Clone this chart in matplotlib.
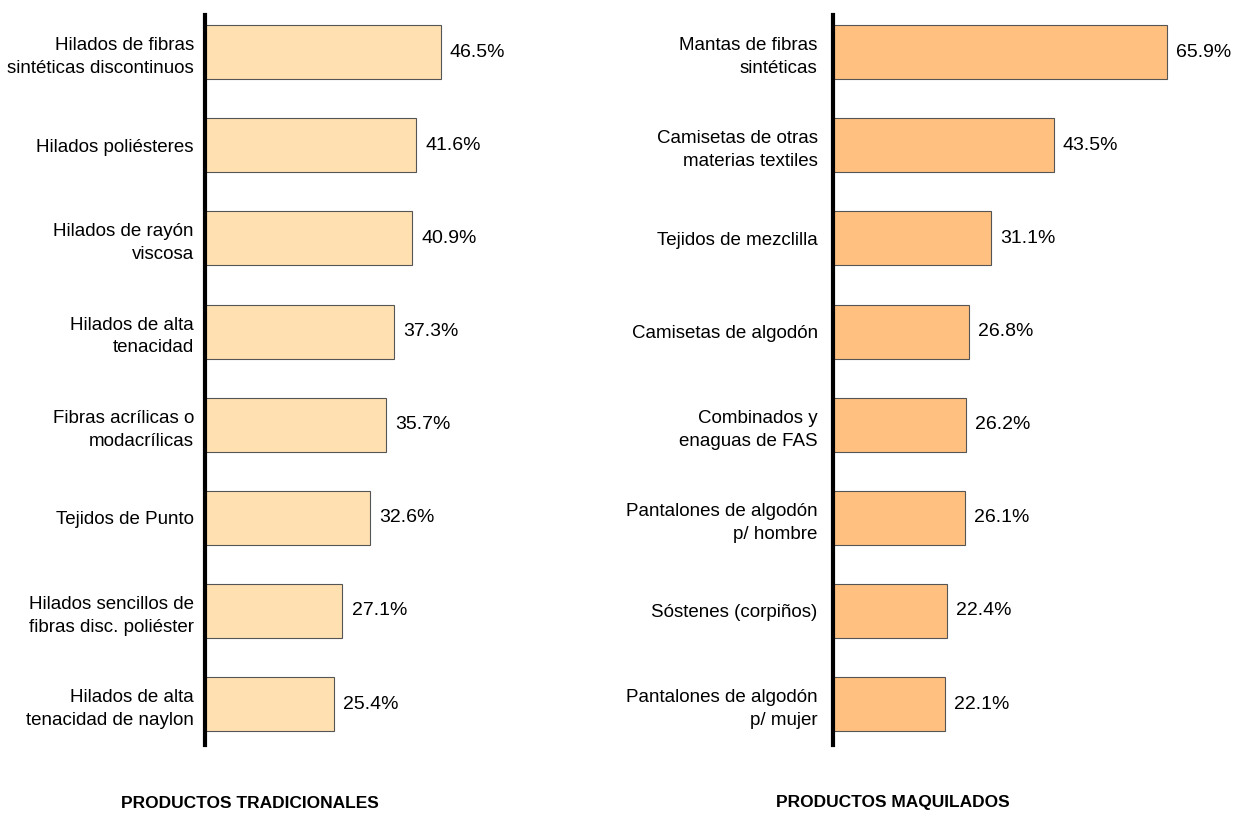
import matplotlib
matplotlib.use('Agg')
from matplotlib import pyplot as plt

# datos
trad_labels = ['Hilados de fibras\nsintéticas discontinuos', 'Hilados poliésteres',
               'Hilados de rayón\nviscosa', 'Hilados de alta\ntenacidad',
               'Fibras acrílicas o\nmodacrílicas', 'Tejidos de Punto',
               'Hilados sencillos de\nfibras disc. poliéster',
               'Hilados de alta\ntenacidad de naylon']
trad_vals = [46.5, 41.6, 40.9, 37.3, 35.7, 32.6, 27.1, 25.4]

maq_labels = ['Mantas de fibras\nsintéticas', 'Camisetas de otras\nmaterias textiles',
              'Tejidos de mezclilla', 'Camisetas de algodón',
              'Combinados y\nenaguas de FAS', 'Pantalones de algodón\np/ hombre',
              'Sóstenes (corpiños)', 'Pantalones de algodón\np/ mujer']
maq_vals = [65.9, 43.5, 31.1, 26.8, 26.2, 26.1, 22.4, 22.1]

plt.rcParams['font.family'] = ['Liberation Sans', 'DejaVu Sans']

fig = plt.figure(figsize=(12.37, 8.17), dpi=100)

def panel(rect, labels, vals, color, title, title_x, pad):
    ax = fig.add_axes(rect)
    pos = range(len(vals))
    ax.barh(pos, vals, height=0.58, color=color, edgecolor='#555555', linewidth=0.8)
    ax.set_xlim(0, 70)
    ax.set_ylim(7.44, -0.4)
    ax.set_yticks(list(pos))
    ax.set_yticklabels(labels, fontsize=13.5, linespacing=1.45, ha='right')
    ax.tick_params(axis='y', length=0, pad=pad)
    ax.set_xticks([])
    for s in ['top', 'right', 'bottom']:
        ax.spines[s].set_visible(False)
    ax.spines['left'].set_linewidth(3)
    ax.spines['left'].set_color('black')
    for p, v in zip(pos, vals):
        ax.text(v + 1.8, p, '%.1f%%' % v, va='center', ha='left', fontsize=14, clip_on=False)
    fig.text(title_x, 817 - 803, title, transform=None, ha='center', va='center',
             fontsize=12.5, fontweight='bold')
    return ax

panel([205 / 1237, 72 / 817, 355 / 1237, 730 / 817], trad_labels, trad_vals,
      '#FFE0B0', 'PRODUCTOS TRADICIONALES', 250, 8)
panel([833 / 1237, 72 / 817, 355 / 1237, 730 / 817], maq_labels, maq_vals,
      '#FFC080', 'PRODUCTOS MAQUILADOS', 893, 11)

plt.savefig('out.png', dpi=100)
